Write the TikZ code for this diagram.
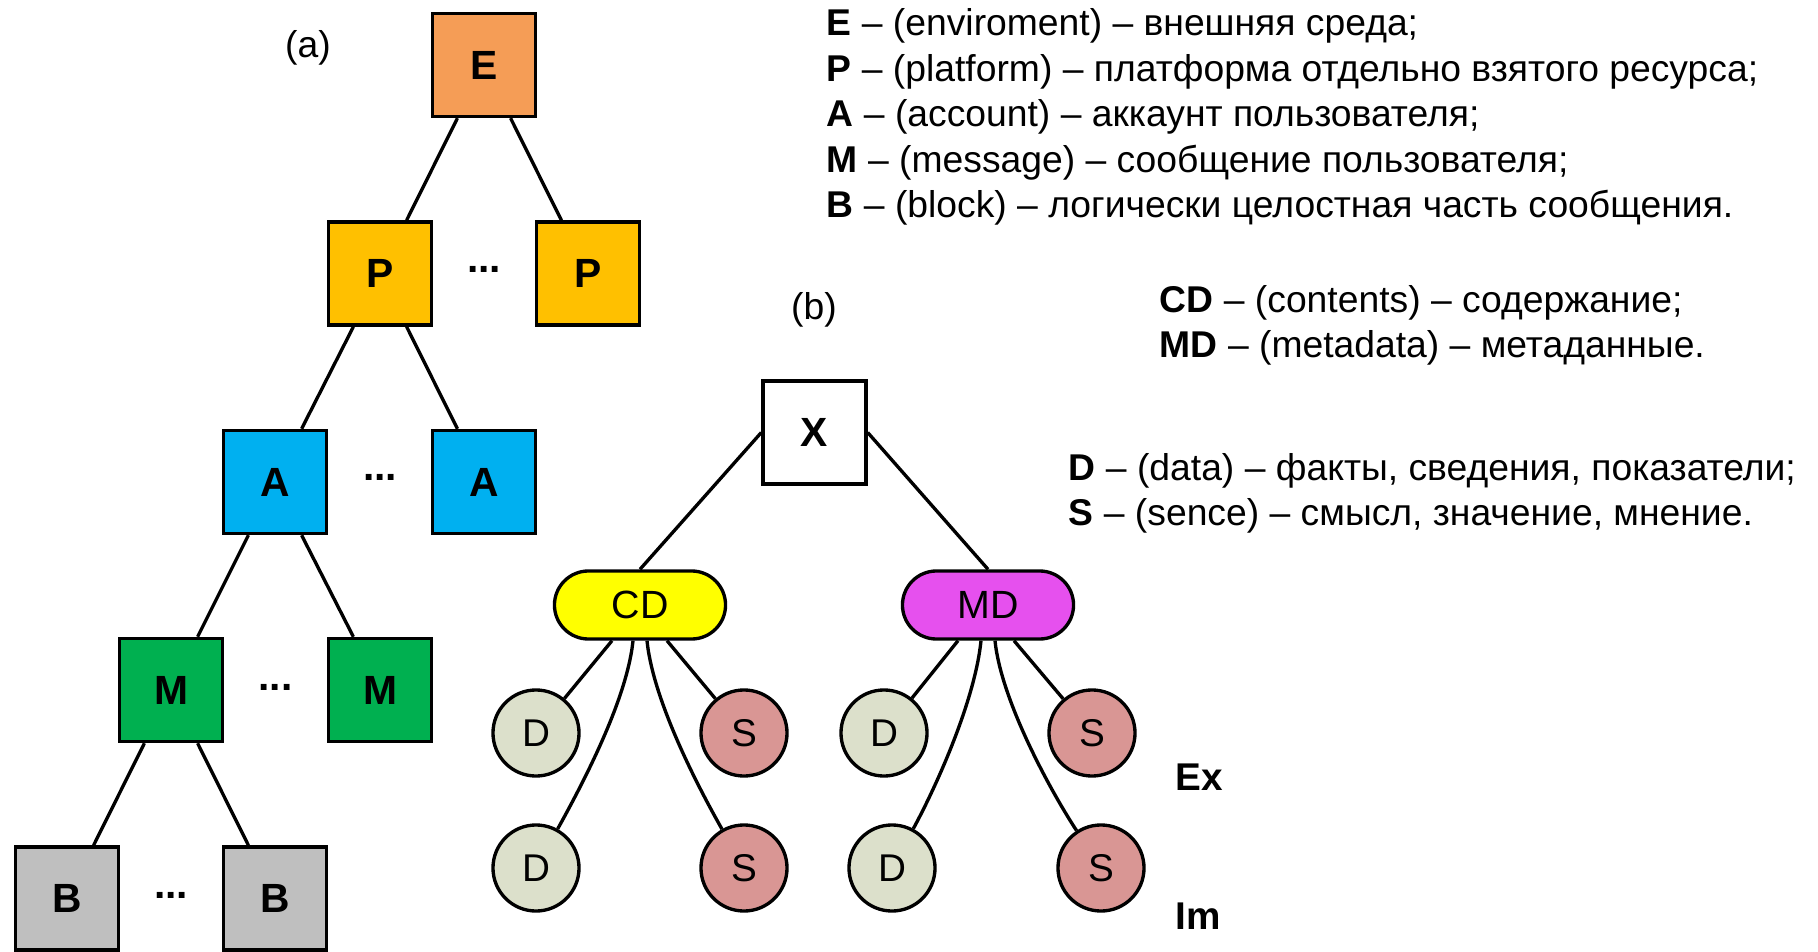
\documentclass[tikz,border=0pt]{standalone}
\usepackage{fontspec}
\setmainfont{Liberation Sans}
\usetikzlibrary{calc}
\definecolor{cE}{HTML}{F59D56}
\definecolor{cP}{HTML}{FFC000}
\definecolor{cA}{HTML}{00B0F0}
\definecolor{cM}{HTML}{00B050}
\definecolor{cB}{HTML}{BFBFBF}
\definecolor{cCD}{HTML}{FFFF00}
\definecolor{cMD}{HTML}{E650EE}
\definecolor{cD}{HTML}{DCE0CB}
\definecolor{cS}{HTML}{D99694}
\begin{document}
\begin{tikzpicture}[x=0.01cm,y=-0.01cm,
  every node/.style={font=\fontsize{10.6}{12.8}\selectfont, inner sep=0pt},
  lw/.style={line width=0.95pt},
  conn/.style={lw},
  sq/.style={draw, lw, minimum width=1.03cm, minimum height=1.03cm, font=\fontsize{11.6}{14}\selectfont\bfseries},
  pill/.style={draw, lw, rounded corners=0.34cm, minimum width=1.71cm, minimum height=0.68cm, font=\fontsize{11.2}{13}\selectfont},
  circ/.style={draw, lw, circle, minimum size=0.86cm, font=\fontsize{11}{13}\selectfont},
  dots/.style={anchor=base, font=\fontsize{11.6}{14}\selectfont\bfseries},
  leg/.style={anchor=base west},
  lab/.style={anchor=base}
]
\useasboundingbox (0,0) rectangle (1818,952);

% ---------- (a) tree ----------
\node[lab] (la) at (308,58) {(a)};
\node[sq, fill=cE] (E) at (484,65) {E};
\node[sq, fill=cP] (P1) at (380,273.5) {P};
\node[sq, fill=cP] (P2) at (588,273.5) {P};
\node[sq, fill=cA] (A1) at (275,482) {A};
\node[sq, fill=cA] (A2) at (484,482) {A};
\node[sq, fill=cM] (M1) at (171,690) {M};
\node[sq, fill=cM] (M2) at (380,690) {M};
\node[sq, fill=cB] (B1) at (67,898.5) {B};
\node[sq, fill=cB] (B2) at (275,898.5) {B};

\node[dots] (dP) at (484,273) {...};
\node[dots] (dA) at (380,481) {...};
\node[dots] (dM) at (275.5,690) {...};
\node[dots] (dB) at (171,898) {...};

\foreach \p/\a/\b in {E/P1/P2, P1/A1/A2, A1/M1/M2, M1/B1/B2}{
  \draw[conn] ($(\p.south west)!0.25!(\p.south east)$) -- ($(\a.north west)!0.75!(\a.north east)$);
  \draw[conn] ($(\p.south west)!0.75!(\p.south east)$) -- ($(\b.north west)!0.25!(\b.north east)$);
}

% ---------- (b) tree ----------
\node[lab] (lb) at (814,320) {(b)};
\node[sq, fill=white] (X) at (814.5,432.5) {X};
\node[pill, fill=cCD] (CD) at (640,605) {CD};
\node[pill, fill=cMD] (MD) at (988,605) {MD};

\node[circ, fill=cD] (D1) at (536,733) {D};
\node[circ, fill=cS] (S1) at (744,733) {S};
\node[circ, fill=cD] (D3) at (884,733) {D};
\node[circ, fill=cS] (S3) at (1092,733) {S};
\node[circ, fill=cD] (D2) at (536,868) {D};
\node[circ, fill=cS] (S2) at (744,868) {S};
\node[circ, fill=cD] (D4) at (892,868) {D};
\node[circ, fill=cS] (S4) at (1101,868) {S};

\draw[conn] (X.west) -- (CD.north);
\draw[conn] (X.east) -- (MD.north);

\draw[conn] ($(CD.south)+(-28,0)$) -- (D1);
\draw[conn] ($(CD.south)+(27,0)$) -- (S1);
\draw[conn] ($(CD.south)+(-7,0)$) .. controls (627,700) and (582,785) .. (D2);
\draw[conn] ($(CD.south)+(7,0)$) .. controls (653,700) and (697,785) .. (S2);

\draw[conn] ($(MD.south)+(-30,0)$) -- (D3);
\draw[conn] ($(MD.south)+(26,0)$) -- (S3);
\draw[conn] ($(MD.south)+(-7,0)$) .. controls (975,700) and (937,785) .. (D4);
\draw[conn] ($(MD.south)+(7,0)$) .. controls (1001,700) and (1050,790) .. (S4);

\node[leg, font=\fontsize{11}{13}\selectfont\bfseries] (Ex) at (1175,790) {Ex};
\node[leg, font=\fontsize{11}{13}\selectfont\bfseries] (Im) at (1175,929) {Im};

% ---------- legends ----------
\node[leg] (L1) at (826,36) {\textbf{E} – (enviroment) – внешняя среда;};
\node[leg] (L2) at (826,81.5) {\textbf{P} – (platform) – платформа отдельно взятого ресурса;};
\node[leg] (L3) at (826,127) {\textbf{A} – (account) – аккаунт пользователя;};
\node[leg] (L4) at (826,172.5) {\textbf{M} – (message) – сообщение пользователя;};
\node[leg] (L5) at (826,218) {\textbf{B} – (block) – логически целостная часть сообщения.};

\node[leg] (L6) at (1159,313) {\textbf{CD} – (contents) – содержание;};
\node[leg] (L7) at (1159,358) {\textbf{MD} – (metadata) – метаданные.};

\node[leg] (L8) at (1068,481) {\textbf{D} – (data) – факты, сведения, показатели;};
\node[leg] (L9) at (1068,525) {\textbf{S} – (sence) – смысл, значение, мнение.};
\end{tikzpicture}
\end{document}
